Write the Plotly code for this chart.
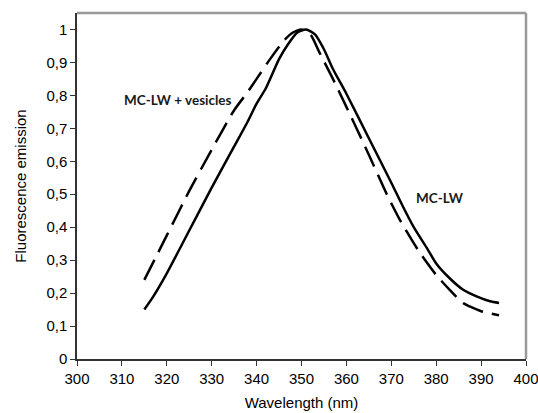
import plotly.graph_objects as go

# MC-LW (solid)
wl_solid = [315, 317, 320, 325, 330, 335, 338, 340, 342, 345, 347, 349, 351, 353, 355, 357,
            360, 365, 370, 372.5, 375, 378, 380, 383, 386, 389, 392, 394]
em_solid = [0.15, 0.19, 0.26, 0.39, 0.52, 0.645, 0.72, 0.775, 0.82, 0.91, 0.955, 0.99, 1.0, 0.985,
            0.94, 0.88, 0.805, 0.67, 0.535, 0.465, 0.40, 0.335, 0.29, 0.245, 0.21, 0.19, 0.175, 0.17]

# MC-LW + vesicles (dashed)
wl_dash = [315, 320, 325, 330, 335, 338, 340, 343, 346, 348, 350, 352, 354, 357,
           360, 365, 369, 372, 376, 380, 383, 386, 390, 394]
em_dash = [0.24, 0.375, 0.51, 0.635, 0.755, 0.81, 0.85, 0.91, 0.965, 0.99, 1.0, 0.985, 0.93, 0.85,
           0.765, 0.62, 0.50, 0.42, 0.33, 0.255, 0.21, 0.17, 0.145, 0.133]

x_ticks = list(range(300, 401, 10))
y_ticks = [0, 0.1, 0.2, 0.3, 0.4, 0.5, 0.6, 0.7, 0.8, 0.9, 1.0]
y_ticktext = ["0", "0,1", "0,2", "0,3", "0,4", "0,5", "0,6", "0,7", "0,8", "0,9", "1"]

fig = go.Figure()
fig.add_trace(go.Scatter(x=wl_dash, y=em_dash, mode="lines",
                         line=dict(color="black", width=2.5, dash="22px,9px", shape="spline", smoothing=0.6),
                         showlegend=False, hoverinfo="skip"))
fig.add_trace(go.Scatter(x=wl_solid, y=em_solid, mode="lines",
                         line=dict(color="black", width=2.5, shape="spline", smoothing=0.6),
                         showlegend=False, hoverinfo="skip"))

fig.add_annotation(x=322.5, y=0.786, text="<b>MC-LW + vesicles</b>", showarrow=False,
                   font=dict(family="Lato", size=13.5, color="#1a1a1a"))
fig.add_annotation(x=380.9, y=0.488, text="<b>MC-LW</b>", showarrow=False,
                   font=dict(family="Lato", size=13.5, color="#1a1a1a"))

# top / right plot-area border (gray)
fig.add_shape(type="line", xref="paper", yref="paper", x0=0, x1=1, y0=1, y1=1,
              line=dict(color="#999999", width=2.5))
fig.add_shape(type="line", xref="paper", yref="paper", x0=1, x1=1, y0=0, y1=1,
              line=dict(color="#999999", width=2.5))

fig.update_layout(
    width=538, height=413,
    margin=dict(l=77, r=12, t=13, b=54),
    paper_bgcolor="white", plot_bgcolor="white",
    font=dict(family="Arial", size=15, color="black"),
    xaxis=dict(range=[300, 400], tickvals=x_ticks, ticks="outside", ticklen=5, tickcolor="#333333",
               showline=True, linecolor="#333333", linewidth=1.5, showgrid=False, zeroline=False,
               automargin=False, ticklabeloverflow="allow",
               title=dict(text="Wavelength (nm)", font=dict(size=15), standoff=12)),
    yaxis=dict(range=[0, 1.05], tickvals=y_ticks, ticktext=y_ticktext, ticks="outside", ticklen=5,
               tickcolor="#333333", automargin=False, ticklabeloverflow="allow",
               showline=True, linecolor="#333333", linewidth=1.5, showgrid=False, zeroline=False,
               title=dict(text="Fluorescence emission", font=dict(size=15), standoff=16)),
)

fig.write_html("out.html")
